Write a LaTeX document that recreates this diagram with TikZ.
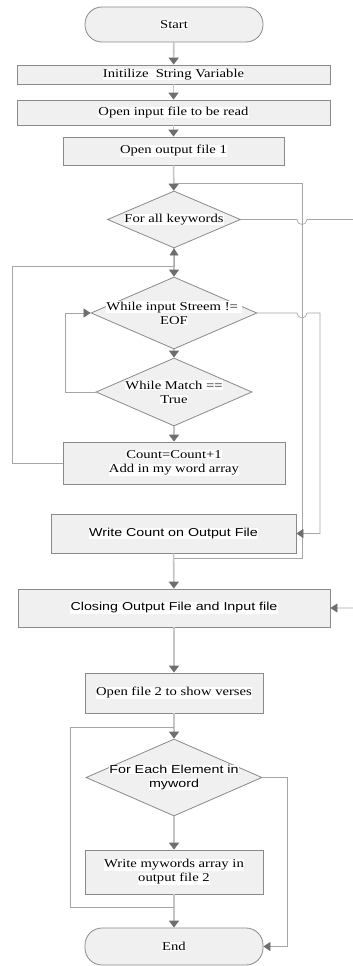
\documentclass[tikz,border=0pt]{standalone}
\usepackage{fontspec}
\setmainfont{Liberation Serif}[FakeStretch=1.22]
\setsansfont{Liberation Sans}[FakeStretch=1.24]
\usetikzlibrary{shapes.geometric,arrows.meta}
\definecolor{boxfill}{HTML}{F0F0F0}
\definecolor{boxline}{HTML}{8A8A8A}
\definecolor{flowline}{HTML}{C4C4C4}
\definecolor{loopline}{HTML}{A6A6A6}
\definecolor{tipgray}{HTML}{6E6E6E}
\newcommand{\wt}[1]{{\setlength{\fboxsep}{0.4pt}\colorbox{white}{#1}}}
\tikzset{
  box/.style={draw=boxline,fill=boxfill,line width=0.8pt,rectangle,inner sep=0pt,
    align=center,font=\fontsize{12}{14}\selectfont},
  term/.style={box,rounded corners=17pt},
  test/.style={draw=boxline,fill=boxfill,line width=0.8pt,diamond,inner sep=0pt},
  testtext/.style={align=center,inner sep=0pt,font=\fontsize{12}{14}\selectfont},
  flow/.style={draw=flowline,line width=1.6pt,-{Triangle[width=10pt 0 0,length=7pt 0 0,color=tipgray]}},
  loop/.style={draw=loopline,line width=0.7pt},
  looparrow/.style={loop,-{Triangle[width=9pt 0 0,length=7pt 0 0,color=tipgray]}}
}
\begin{document}
\begin{tikzpicture}[x=1pt,y=-1pt]
\useasboundingbox[fill=white] (0,0) rectangle (353,966);
\node[term,minimum width=178pt,minimum height=35pt] (start) at (174,24.5) {\wt{Start}};
\node[box,minimum width=313pt,minimum height=19pt] (init) at (173.5,74.5) {\wt{Initilize~ String Variable}};
\node[box,minimum width=313pt,minimum height=25pt] (openin) at (173.5,112.5) {\wt{Open input file to be read}};
\node[box,minimum width=221pt,minimum height=28pt] (openout) at (173.5,151) {\wt{Open output file 1}};
\node[test,minimum width=133pt,minimum height=57pt,
  label={[testtext]center:\wt{For all keywords}}] (forkey) at (174,219.5) {};
\node[test,minimum width=166pt,minimum height=72pt,
  label={[testtext]center:\wt{While input Streem != }\\\wt{EOF}}] (whilein) at (174,313) {};
\node[test,minimum width=156pt,minimum height=68pt,
  label={[testtext]center:\wt{While Match ==}\\\wt{True}}] (whilematch) at (174,392) {};
\node[box,minimum width=222pt,minimum height=42pt] (count) at (174,463) {\wt{Count=Count+1}\\\wt{Add in my word array}};
\node[box,font=\sffamily\fontsize{11.5}{14}\selectfont,minimum width=245pt,minimum height=39pt] (writecount) at (173.5,533.5) {\wt{Write Count on Output File}};
\node[box,font=\sffamily\fontsize{11.5}{14}\selectfont,minimum width=312pt,minimum height=38pt] (closing) at (174,608) {\wt{Closing Output File and Input file}};
\node[box,minimum width=178pt,minimum height=40pt] (openf2) at (174,693) {\wt{Open file 2 to show verses}};
\node[test,minimum width=176pt,minimum height=77pt,
  label={[testtext,font=\sffamily\fontsize{11.5}{14}\selectfont]center:\wt{For Each Element in}\\\wt{myword}}] (foreach) at (174,777.5) {};
\node[box,minimum width=178pt,minimum height=44pt] (writearr) at (174,872) {\wt{Write mywords array in}\\\wt{output file 2}};
\node[term,minimum width=178pt,minimum height=37pt] (finish) at (174,946.5) {\wt{End}};
% joining points
\coordinate (kjoin) at (174,183);
\coordinate (wjoin) at (174,558);
\coordinate (cjoin) at (174,266);
\coordinate (ejoin) at (174,727);
\coordinate (ajoin) at (174,907);
% main line
\draw[flow] (start) -- (init);
\draw[flow] (init) -- (openin);
\draw[flow] (openin) -- (openout);
\draw[flow] (openout) -- (forkey);
\draw[flow] (forkey) -- (whilein);
\draw[flow] (whilein) -- (whilematch);
\draw[flow] (whilematch) -- (count);
\draw[flow] (writecount) -- (closing);
\draw[flow] (closing) -- (openf2);
\draw[flow] (openf2) -- (foreach);
\draw[flow] (foreach) -- (writearr);
\draw[flow] (writearr) -- (finish);
% loops
\draw[loop] (wjoin) -| (302,183) -- (kjoin);
\draw[looparrow] (count.west) -| (12,266) -- (cjoin) -- (forkey.south);
\draw[looparrow] (whilematch.west) -| (65,313) -- (whilein.west);
\draw[looparrow] (whilein.east) -- (297,313) arc[start angle=180,end angle=0,radius=5] -- (320,313) |- (writecount.east);
\draw[looparrow] (forkey.east) -- (297,219.5) arc[start angle=180,end angle=0,radius=5] -- (360,219.5) |- (closing.east);
\draw[loop] (ajoin) -| (70,727) -- (ejoin);
\draw[looparrow] (foreach.east) -| (287,946.5) -- (finish.east);
\end{tikzpicture}
\end{document}
